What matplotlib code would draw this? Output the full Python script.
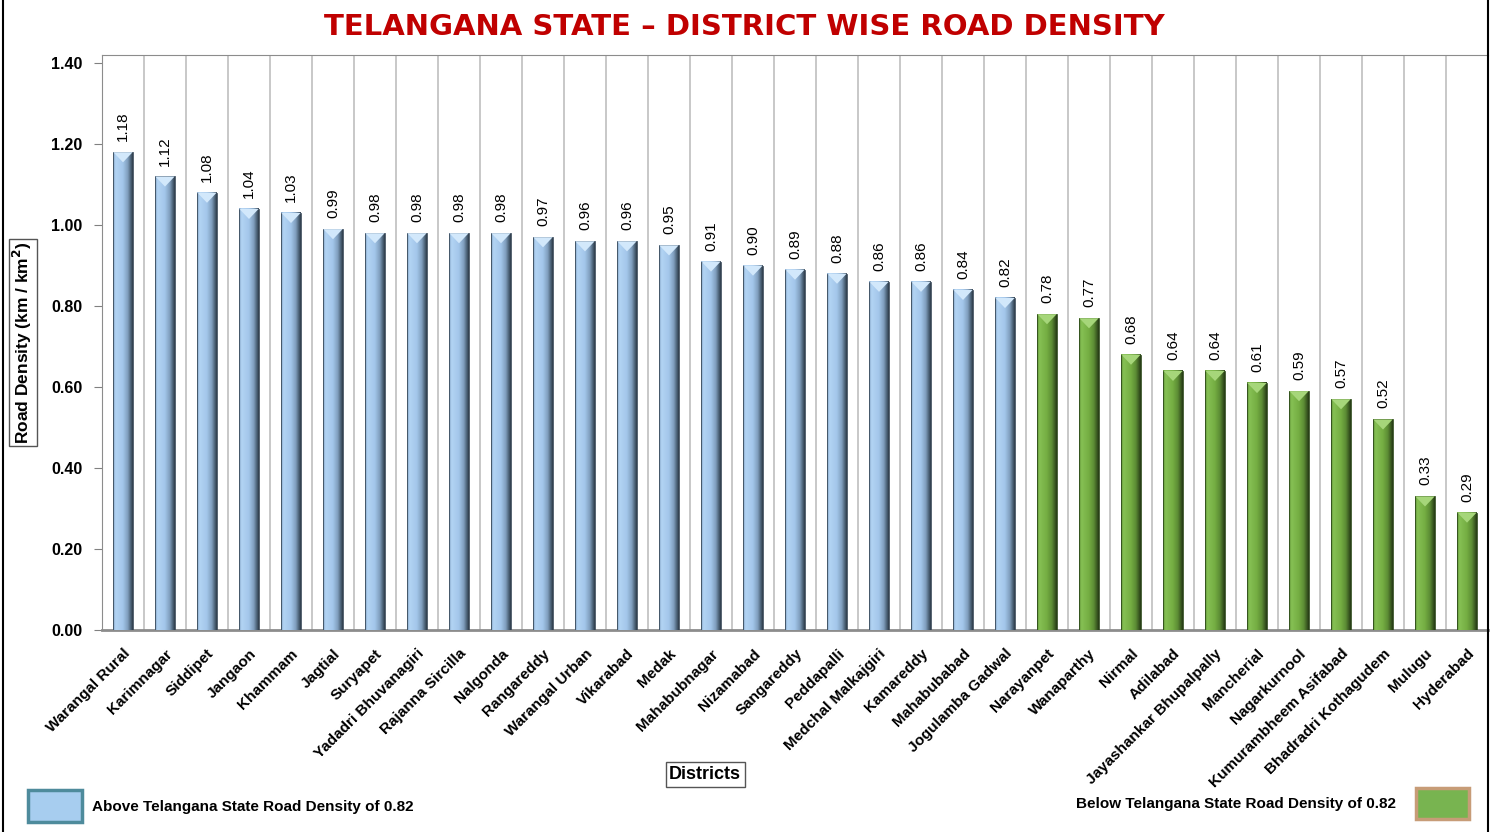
import numpy as np
import matplotlib.pyplot as plt
from matplotlib.colors import LinearSegmentedColormap
from matplotlib.patches import Rectangle, Polygon
from matplotlib.lines import Line2D

plt.rcParams['font.family'] = ['Liberation Sans', 'DejaVu Sans']

districts = ['Warangal Rural', 'Karimnagar', 'Siddipet', 'Jangaon', 'Khammam', 'Jagtial',
             'Suryapet', 'Yadadri Bhuvanagiri', 'Rajanna Sircilla', 'Nalgonda', 'Rangareddy',
             'Warangal Urban', 'Vikarabad', 'Medak', 'Mahabubnagar', 'Nizamabad', 'Sangareddy',
             'Peddapalli', 'Medchal Malkajgiri', 'Kamareddy', 'Mahabubabad', 'Jogulamba Gadwal',
             'Narayanpet', 'Wanaparthy', 'Nirmal', 'Adilabad', 'Jayashankar Bhupalpally',
             'Mancherial', 'Nagarkurnool', 'Kumurambheem Asifabad', 'Bhadradri Kothagudem',
             'Mulugu', 'Hyderabad']
density = [1.18, 1.12, 1.08, 1.04, 1.03, 0.99, 0.98, 0.98, 0.98, 0.98, 0.97,
           0.96, 0.96, 0.95, 0.91, 0.90, 0.89, 0.88, 0.86, 0.86, 0.84, 0.82,
           0.78, 0.77, 0.68, 0.64, 0.64, 0.61, 0.59, 0.57, 0.52, 0.33, 0.29]
state_avg = 0.82
yticks = [0.0, 0.2, 0.4, 0.6, 0.8, 1.0, 1.2, 1.4]

blue_cm = LinearSegmentedColormap.from_list('b', [(0, '#7D9EC0'), (0.12, '#B3D4F4'), (0.5, '#A3C6EA'),
                                                  (0.75, '#7F9DBC'), (0.9, '#4D6378'), (1, '#2E3C4A')])
green_cm = LinearSegmentedColormap.from_list('g', [(0, '#5E9035'), (0.12, '#86C154'), (0.5, '#74AD42'),
                                                   (0.75, '#5C8C34'), (0.9, '#3C5C22'), (1, '#253A15')])

fig = plt.figure(figsize=(14.91, 8.32), dpi=100)
ax = fig.add_axes([0.0684, 0.2428, 0.9296, 0.6911])

x = np.arange(len(districts))
w = 0.46
grad = np.linspace(0, 1, 64).reshape(1, -1)
for i, v in enumerate(density):
    above = v >= state_avg
    cm = blue_cm if above else green_cm
    ax.imshow(grad, extent=[i - w / 2, i + w / 2, 0, v], aspect='auto', cmap=cm,
              interpolation='bilinear', zorder=3)
    ax.add_patch(Rectangle((i - w / 2, 0), w, v, fill=False,
                           edgecolor='#3A4A5A' if above else '#2E4A1C', lw=0.6, zorder=4))
    # bevel on the bar top
    top_col = '#D2E8FB' if above else '#A6D67A'
    ax.add_patch(Polygon([(i - w / 2, v), (i + w / 2, v), (i, v - 0.025)], closed=True,
                         facecolor=top_col, edgecolor='none', zorder=4))
    ax.text(i, v + 0.027, f'{v:.2f}', rotation=90, ha='center', va='bottom',
            fontsize=11, color='black', zorder=5)

ax.set_xlim(-0.5, len(districts) - 0.5)
ax.set_ylim(0, 1.42)
ax.set_yticks(yticks)
ax.set_yticklabels([f'{t:.2f}' for t in yticks], fontsize=11.5, fontweight='bold')
ax.set_xticks(x)
ax.set_xticklabels(districts, rotation=45, ha='right', rotation_mode='anchor',
                   fontsize=11, fontweight='bold')
ax.tick_params(axis='x', length=0, pad=12)
ax.tick_params(axis='y', length=6, color='#808080', pad=8)
for b in np.arange(0.5, len(districts) - 0.5, 1):
    ax.axvline(b, color='#BFBFBF', lw=1.2, zorder=1)
for s in ['left', 'top', 'bottom']:
    ax.spines[s].set_color('#8C8C8C')
ax.spines['bottom'].set_linewidth(2)
ax.spines['right'].set_visible(False)

ax.set_ylabel('Road Density (km / km$^\\mathbf{2}$)', fontsize=12.5, fontweight='bold', labelpad=12,
              bbox=dict(boxstyle='square,pad=0.15', facecolor='white', edgecolor='#555555', lw=1))
fig.text(0.473, 0.069, 'Districts', ha='center', va='center', fontsize=13, fontweight='bold',
         bbox=dict(boxstyle='square,pad=0.2', facecolor='white', edgecolor='#555555', lw=1))

fig.text(0.499, 0.968, 'TELANGANA STATE \u2013 DISTRICT WISE ROAD DENSITY', ha='center', va='center',
         fontsize=21, fontweight='bold', color='#C00000', family='DejaVu Sans')

# legend boxes
fig.patches.append(Rectangle((0.019, 0.012), 0.036, 0.038, transform=fig.transFigure,
                             facecolor='#A7CDEF', edgecolor='#4E8B9C', lw=2.5))
fig.text(0.062, 0.030, 'Above Telangana State Road Density of 0.82', ha='left', va='center',
         fontsize=11, fontweight='bold')
fig.patches.append(Rectangle((0.950, 0.016), 0.035, 0.037, transform=fig.transFigure,
                             facecolor='#78B450', edgecolor='#C79C77', lw=2.5))
fig.text(0.936, 0.034, 'Below Telangana State Road Density of 0.82', ha='right', va='center',
         fontsize=11, fontweight='bold')

# outer frame lines
fig.add_artist(Line2D([0.002, 0.002], [0, 1], transform=fig.transFigure, color='black', lw=1.5))
fig.add_artist(Line2D([0.998, 0.998], [0, 1], transform=fig.transFigure, color='black', lw=1.5))

fig.savefig('out.png', dpi=100)
